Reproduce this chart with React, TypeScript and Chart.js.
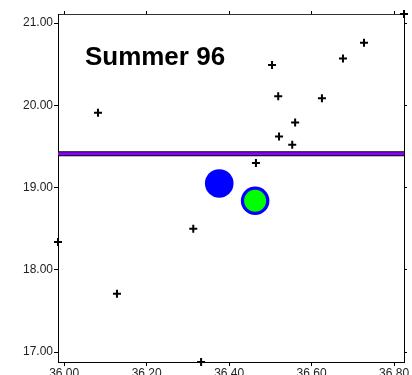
import React, { useEffect, useRef } from "react";
import { Chart, registerables } from "chart.js";

Chart.register(...registerables);

const plusX = [36.082, 35.985, 36.128, 36.313, 36.332, 36.504, 36.676, 36.727, 36.824, 36.519, 36.625, 36.56, 36.521, 36.553, 36.465];
const plusY = [19.91, 18.34, 17.71, 18.5, 16.88, 20.49, 20.57, 20.76, 21.11, 20.11, 20.085, 19.79, 19.62, 19.52, 19.3];
const blueX = [36.376, 36.463];
const blueY = [19.05, 18.84];
const greenX = [36.463];
const greenY = [18.84];
const lineX = [35.985, 36.824];
const lineLevel = 19.41;
const xTicks = [36.0, 36.2, 36.4, 36.6, 36.8];
const yTicks = [17.0, 18.0, 19.0, 20.0, 21.0];
const xRange = [35.985, 36.824];
const yRange = [16.88, 21.11];
const titleText = "Summer 96";

const FONT = "'Liberation Sans', Arial, Helvetica, sans-serif";

export default function App() {
  const ref = useRef<HTMLCanvasElement | null>(null);
  useEffect(() => {
    if (!ref.current) return;
    const titlePlugin = {
      id: "titleText",
      afterDatasetsDraw(chart: any) {
        const ctx = chart.ctx;
        ctx.save();
        ctx.font = `bold 26px ${FONT}`;
        ctx.fillStyle = "#000";
        ctx.textAlign = "center";
        ctx.textBaseline = "alphabetic";
        ctx.fillText(titleText, 155, 65);
        ctx.restore();
      },
    };
    const setTicks = (vals: number[]) => (scale: any) => {
      scale.ticks = vals.map((v) => ({ value: v }));
    };
    const fitH = (h: number) => (s: any) => {
      s.height = h;
      s.paddingLeft = 0;
      s.paddingRight = 0;
    };
    const fitW = (w: number) => (s: any) => {
      s.width = w;
      s.paddingTop = 0;
      s.paddingBottom = 0;
    };
    const chart = new Chart(ref.current, {
      type: "scatter",
      data: {
        datasets: [
          {
            data: greenX.map((x, i) => ({ x, y: greenY[i] })),
            pointRadius: 11,
            pointBackgroundColor: "#00ff00",
            pointBorderWidth: 0,
            clip: false,
          } as any,
          {
            data: blueX.map((x, i) => ({ x, y: blueY[i] })),
            pointRadius: 14.3,
            pointBackgroundColor: "#0000ff",
            pointBorderWidth: 0,
            clip: false,
          },
          {
            type: "line",
            data: lineX.map((x) => ({ x, y: lineLevel })),
            borderColor: "#8c00ff",
            borderWidth: 3,
            pointRadius: 0,
            clip: false,
          },
          {
            type: "line",
            data: lineX.map((x) => ({ x, y: lineLevel })),
            borderColor: "#000000",
            borderWidth: 5,
            pointRadius: 0,
            clip: false,
          },
          {
            data: plusX.map((x, i) => ({ x, y: plusY[i] })),
            pointStyle: "cross",
            pointRadius: 4,
            pointBorderWidth: 2,
            pointBorderColor: "#000",
            clip: false,
          },
        ],
      },
      options: {
        animation: false,
        responsive: false,
        events: [],
        layout: { padding: 0, autoPadding: false },
        plugins: { legend: { display: false }, tooltip: { enabled: false } },
        scales: {
          x: {
            type: "linear",
            position: "bottom",
            min: xRange[0],
            max: xRange[1],
            afterBuildTicks: setTicks(xTicks),
            afterFit: fitH(13),
            border: { display: true, color: "#000", width: 1 },
            grid: { display: true, drawOnChartArea: false, drawTicks: true, tickLength: 4, color: "#000" },
            ticks: {
              padding: 0,
              maxRotation: 0,
              autoSkip: false,
              color: "#222",
              font: { family: FONT, size: 12 },
              callback: (v: any) => Number(v).toFixed(2),
            },
          },
          x2: {
            type: "linear",
            position: "top",
            min: xRange[0],
            max: xRange[1],
            afterBuildTicks: setTicks(xTicks),
            afterFit: fitH(14),
            border: { display: true, color: "#333", width: 1 },
            grid: { display: true, drawOnChartArea: false, drawTicks: true, tickLength: 3, color: "#000" },
            ticks: { display: false },
          },
          y: {
            type: "linear",
            position: "left",
            min: yRange[0],
            max: yRange[1],
            afterBuildTicks: setTicks(yTicks),
            afterFit: fitW(58),
            border: { display: true, color: "#000", width: 1 },
            grid: { display: true, drawOnChartArea: false, drawTicks: true, tickLength: 4, color: "#000" },
            ticks: {
              padding: 1,
              autoSkip: false,
              color: "#222",
              font: { family: FONT, size: 12 },
              callback: (v: any) => Number(v).toFixed(2),
            },
          },
          y2: {
            type: "linear",
            position: "right",
            min: yRange[0],
            max: yRange[1],
            afterBuildTicks: setTicks(yTicks),
            afterFit: fitW(8),
            border: { display: true, color: "#000", width: 1 },
            grid: { display: true, drawOnChartArea: false, drawTicks: true, tickLength: 3, color: "#000" },
            ticks: { display: false },
          },
        },
      } as any,
      plugins: [titlePlugin],
    });
    return () => chart.destroy();
  }, []);
  return (
    <div style={{ position: "absolute", left: 0, top: 0, width: 412, height: 375, background: "#fff" }}>
      <canvas ref={ref} width={412} height={375} style={{ width: 412, height: 375 }} />
    </div>
  );
}
